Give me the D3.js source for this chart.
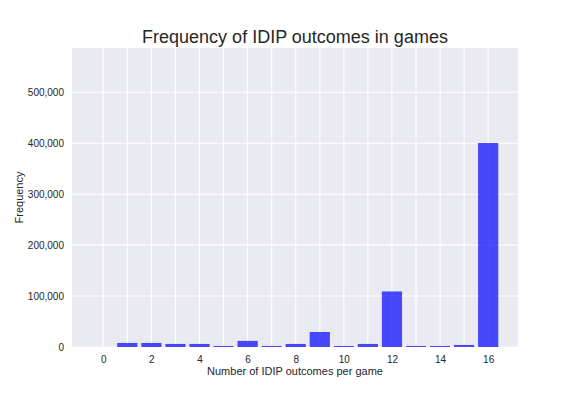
<!DOCTYPE html>
<meta charset="utf-8">
<style>
body { margin: 0; background: white; }
text { font-family: "Liberation Sans", Arial, sans-serif; fill: #262626; }
</style>
<body>
<script src="https://d3js.org/d3.v7.min.js"></script>
<script>

// outcomes per game and how many games had that count
const outcomes = [0, 1, 2, 3, 4, 5, 6, 7, 8, 9, 10, 11, 12, 13, 14, 15, 16]
const counts = [0, 8000, 8000, 6000, 6000, 2000, 12000, 2000, 6000, 29500, 2000, 6000, 109000, 2000, 2000, 4000, 400500]
const yTicks = [0, 100000, 200000, 300000, 400000, 500000]
const xTicks = [0, 2, 4, 6, 8, 10, 12, 14, 16]

const width = 576
const height = 396
const margin = {top: 48, right: 58, bottom: 49, left: 72}

const svg = d3.select('body')
  .append('svg')
  .attr('width', width)
  .attr('height', height)

const x = d3.scaleLinear()
  .domain([-1.3, 17.24])
  .range([margin.left, width - margin.right])

const y = d3.scaleLinear()
  .domain([0, 587000])
  .range([height - margin.bottom, margin.top])

// grey plot background
svg.append('rect')
  .attr('x', margin.left)
  .attr('y', margin.top)
  .attr('width', width - margin.left - margin.right)
  .attr('height', height - margin.top - margin.bottom)
  .attr('fill', '#eaeaf2')

// grid lines
svg.append('g')
  .selectAll('line')
  .data(outcomes)
  .join('line')
  .attr('x1', d => x(d))
  .attr('x2', d => x(d))
  .attr('y1', margin.top)
  .attr('y2', height - margin.bottom)
  .attr('stroke', 'white')
  .attr('stroke-width', 1.1)

svg.append('g')
  .selectAll('line')
  .data(yTicks)
  .join('line')
  .attr('x1', margin.left)
  .attr('x2', width - margin.right)
  .attr('y1', d => y(d))
  .attr('y2', d => y(d))
  .attr('stroke', 'white')
  .attr('stroke-width', 1.1)

// bars
const bw = 0.84
svg.append('g')
  .selectAll('rect')
  .data(outcomes)
  .join('rect')
  .attr('x', d => x(d - bw / 2))
  .attr('width', x(bw) - x(0))
  .attr('y', (d, i) => y(counts[i]))
  .attr('height', (d, i) => y(0) - y(counts[i]))
  .attr('fill', 'blue')
  .attr('fill-opacity', 0.7)

// axes
const xAxis = svg.append('g')
  .attr('transform', `translate(0,${height - margin.bottom})`)
  .call(d3.axisBottom(x).tickValues(xTicks).tickSize(0).tickPadding(9))
xAxis.select('.domain').remove()
xAxis.selectAll('text').attr('font-size', 10).style('fill', '#262626')

const yAxis = svg.append('g')
  .attr('transform', `translate(${margin.left},0)`)
  .call(d3.axisLeft(y).tickValues(yTicks).tickSize(0).tickPadding(8).tickFormat(d3.format(',')))
yAxis.select('.domain').remove()
yAxis.selectAll('text').attr('font-size', 10).style('fill', '#262626')

// labels
svg.append('text')
  .attr('x', (margin.left + width - margin.right) / 2)
  .attr('y', 43)
  .attr('text-anchor', 'middle')
  .attr('font-size', 18)
  .text('Frequency of IDIP outcomes in games')

svg.append('text')
  .attr('x', (margin.left + width - margin.right) / 2)
  .attr('y', 375)
  .attr('text-anchor', 'middle')
  .attr('font-size', 11)
  .text('Number of IDIP outcomes per game')

svg.append('text')
  .attr('transform', `translate(23,${(margin.top + height - margin.bottom) / 2}) rotate(-90)`)
  .attr('text-anchor', 'middle')
  .attr('font-size', 11)
  .text('Frequency')

</script>
</body>
</html>
